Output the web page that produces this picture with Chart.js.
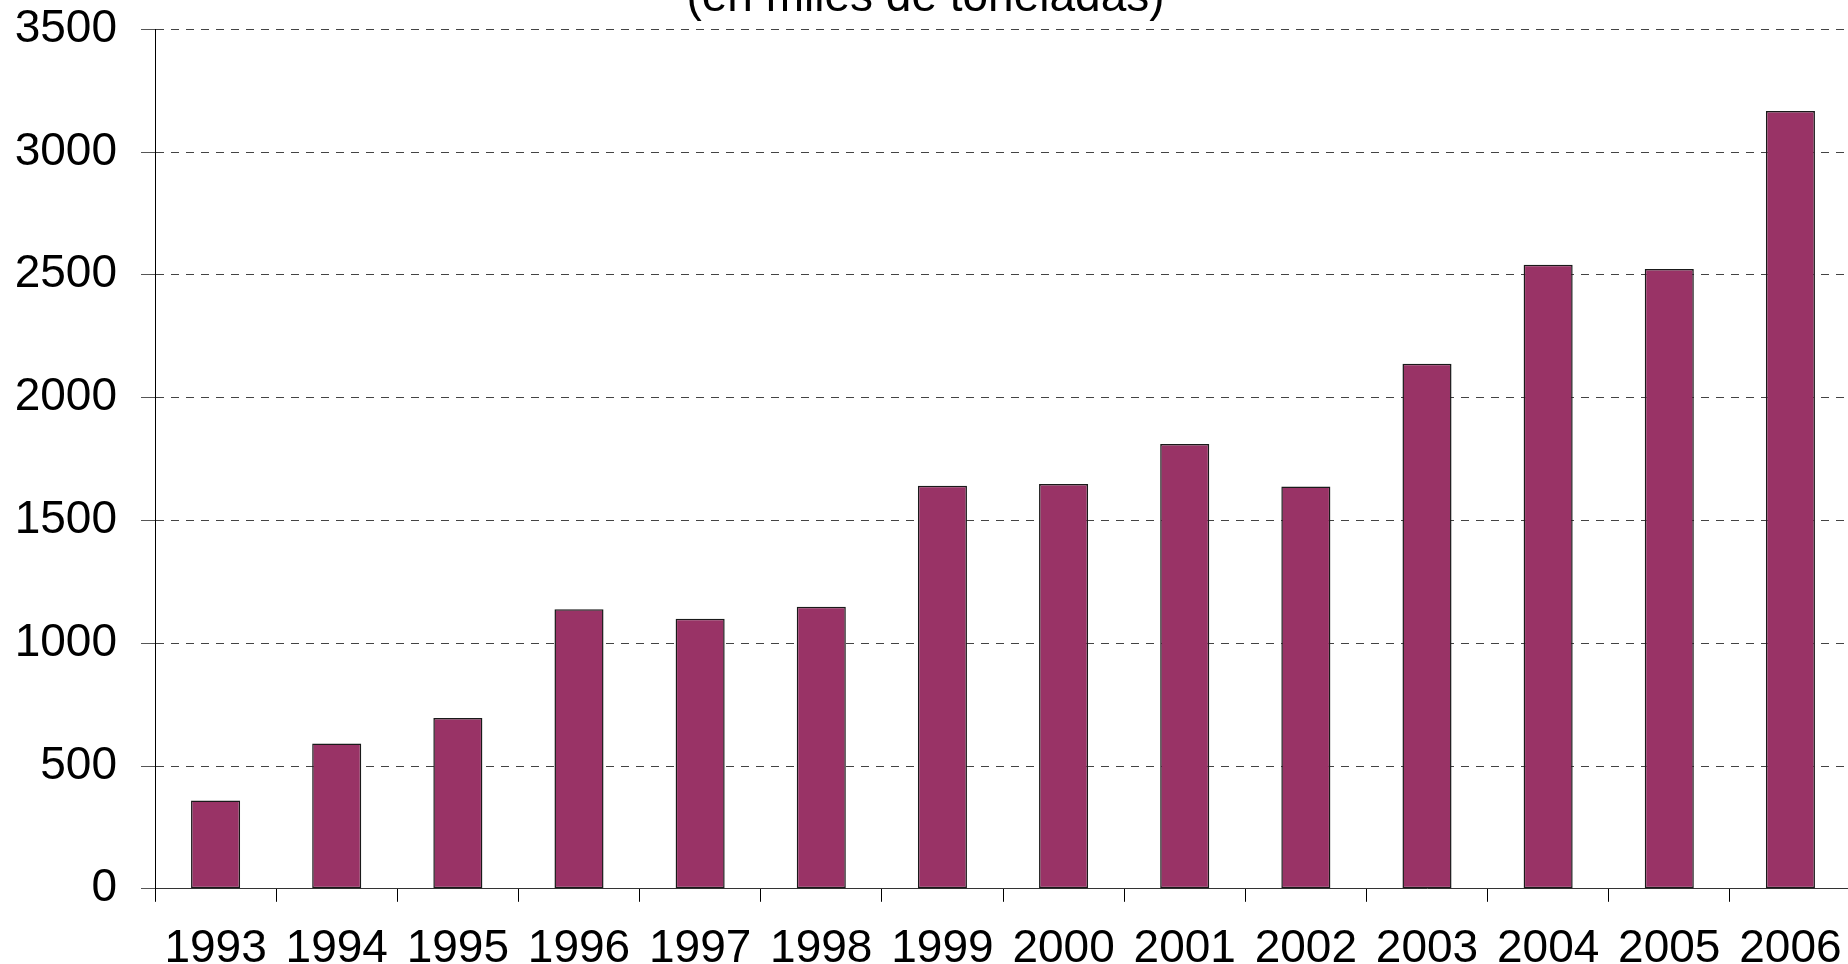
<!DOCTYPE html>
<html>
<head>
<meta charset="utf-8">
<script src="https://cdn.jsdelivr.net/npm/chart.js@4.4.1/dist/chart.umd.min.js"></script>
<style>
  html, body { margin: 0; padding: 0; background: #ffffff; overflow: hidden; width: 1848px; height: 964px; }
  #wrap { position: absolute; left: 0; top: -29px; width: 1862px; height: 1026px; }
</style>
</head>
<body>
<div id="wrap"><canvas id="c"></canvas></div>
<script>
const titleText = "(en miles de toneladas)";
const years = ["1993","1994","1995","1996","1997","1998","1999","2000","2001","2002","2003","2004","2005","2006"];
const tonnes = [360, 592, 695, 1138, 1100, 1148, 1641, 1648, 1811, 1638, 2138, 2541, 2524, 3167];
const yMin = 0, yMax = 3500, yStep = 500;

const FONT = "'Liberation Sans', Arial, Helvetica, sans-serif";

new Chart(document.getElementById('c'), {
  type: 'bar',
  data: {
    labels: years,
    datasets: [{
      data: tonnes,
      backgroundColor: '#993366',
      borderColor: '#1a1a1a',
      borderWidth: 1.5,
      borderSkipped: false,
      categoryPercentage: 1.0,
      barPercentage: 0.405
    }]
  },
  options: {
    responsive: true,
    maintainAspectRatio: false,
    animation: false,
    devicePixelRatio: 1,
    layout: { padding: { left: 0, right: 11, top: 0, bottom: 0 } },
    plugins: {
      legend: { display: false },
      tooltip: { enabled: false },
      title: {
        display: true,
        text: titleText,
        color: '#000',
        font: { family: FONT, size: 46, weight: 'normal' },
        padding: { top: 0, bottom: 3 }
      }
    },
    scales: {
      x: {
        grid: {
          display: true,
          drawOnChartArea: false,
          drawTicks: true,
          offset: true,
          tickLength: 13,
          tickColor: '#000',
          tickWidth: 1
        },
        border: { display: true, color: '#333', width: 1 },
        ticks: {
          color: '#000',
          padding: 20,
          font: { family: FONT, size: 46 },
          maxRotation: 0,
          autoSkip: false
        }
      },
      y: {
        min: yMin,
        max: yMax,
        afterFit: (scale) => { scale.width = 155; },
        grid: {
          color: '#444',
          lineWidth: 1,
          drawTicks: true,
          tickLength: 14,
          tickColor: '#555',
          tickBorderDash: []
        },
        border: { display: true, color: '#000', width: 1, dash: [8, 7] },
        ticks: {
          stepSize: yStep,
          color: '#000',
          padding: 24,
          font: { family: FONT, size: 46 },
          callback: (v) => String(v)
        }
      }
    }
  }
});
</script>
</body>
</html>
